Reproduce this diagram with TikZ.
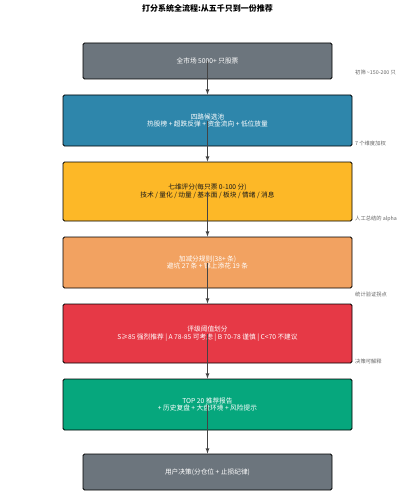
\documentclass[tikz,border=0pt]{standalone}
\usepackage{fontspec}
\setmainfont{Noto Sans CJK SC}
\usepackage{tikz}
\definecolor{slate}{HTML}{6C757D}
\definecolor{poolblue}{HTML}{2E86AB}
\definecolor{scoreyellow}{HTML}{FDB827}
\definecolor{ruleorange}{HTML}{F2A261}
\definecolor{graded}{HTML}{E63946}
\definecolor{reportgreen}{HTML}{06A77D}
\definecolor{arrowgray}{HTML}{444444}
\definecolor{notegray}{HTML}{666666}

\begin{document}
\begin{tikzpicture}[x=1pt,y=-1pt,%
  stage/.style={draw=black, line width=0.8pt, rounded corners=1.5pt,
    minimum width=289pt, align=center, font=\fontsize{6.7}{7.8}\selectfont, text=white},
  narrow/.style={minimum width=249pt},
  note/.style={anchor=west, inner sep=0pt, text=notegray, font=\fontsize{5.3}{6}\selectfont},
  flow/.style={draw=arrowgray, line width=0.8pt, -latex}]
  \useasboundingbox (0,0) rectangle (415,500);
  \node[font=\bfseries\fontsize{8}{9}\selectfont] (title) at (207.5,8) {打分系统全流程:从五千只到一份推荐};
  \node[stage, narrow, fill=slate, minimum height=36pt] (market) at (207.5,61) {全市场 5000+ 只股票};
  \node[stage, fill=poolblue, minimum height=51pt] (pool) at (207.5,120.5)
    {四路候选池\\热股榜 + 超跌反弹 + 资金流向 + 低位放量};
  \node[stage, fill=scoreyellow, minimum height=59pt, text=black!90] (score) at (207.5,191.5)
    {七维评分(每只票 0-100 分)\\技术 / 量化 / 动量 / 基本面 / 板块 / 情绪 / 消息};
  \node[stage, fill=ruleorange, minimum height=51pt] (rules) at (207.5,262.5)
    {加减分规则(38+ 条)\\避坑 27 条 + 锦上添花 19 条};
  \node[stage, fill=graded, minimum height=59pt] (grade) at (207.5,333.5)
    {评级阈值划分\\S≥85 强烈推荐 | A 78-85 可考虑 | B 70-78 谨慎 | C<70 不建议};
  \node[stage, fill=reportgreen, minimum height=51pt] (report) at (207.5,404.5)
    {TOP 20 推荐报告\\+ 历史复盘 + 大盘环境 + 风险提示};
  \node[stage, narrow, fill=slate, minimum height=36pt] (user) at (207.5,472) {用户决策(分仓位 + 止损纪律)};
  \foreach \a/\b in {market/pool, pool/score, score/rules, rules/grade, grade/report, report/user}
    \draw[flow] (\a.center) -- (\b.north);
  \node[note] (n1) at (355,72) {初筛 \textasciitilde150-200 只};
  \node[note] (n2) at (355,143) {7 个维度加权};
  \node[note] (n3) at (355,219) {人工总结的 alpha};
  \node[note] (n4) at (355,294) {统计验证拐点};
  \node[note] (n5) at (355,361) {决策可解释};
\end{tikzpicture}
\end{document}
